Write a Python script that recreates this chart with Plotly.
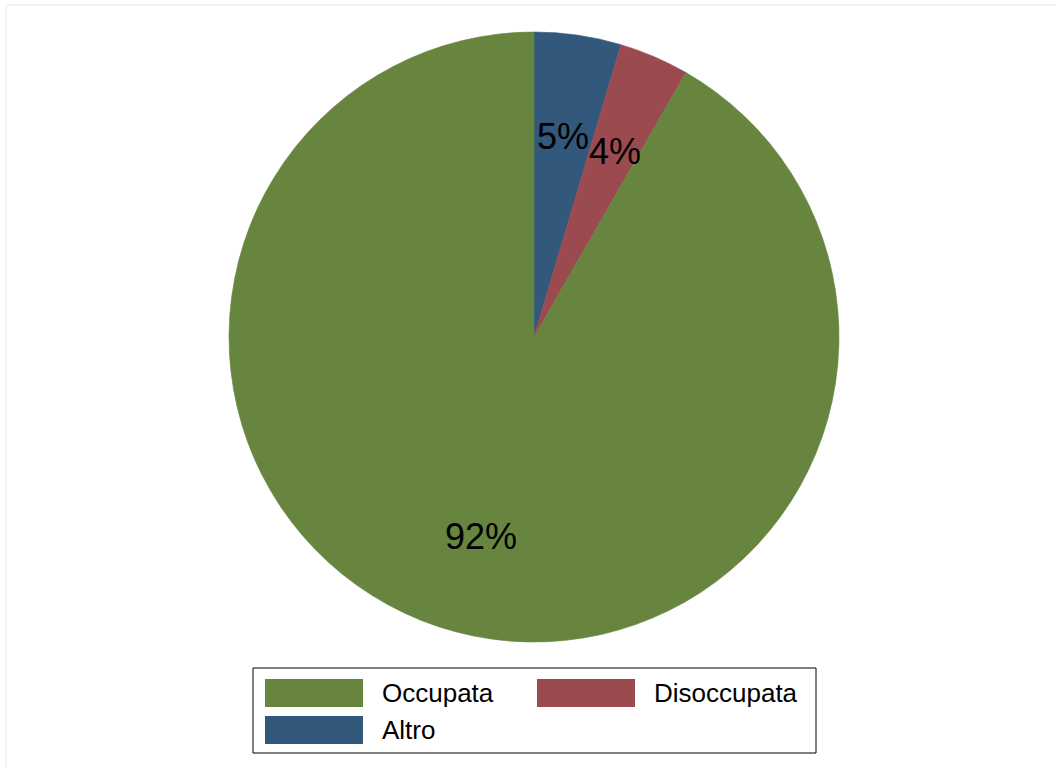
import math
import plotly.graph_objects as go

categories = ["Occupata", "Disoccupata", "Altro"]
values = [91.7, 3.7, 4.6]
colors = ["#67853F", "#9B4A50", "#32587B"]

W, H = 1056, 767
FONT = "Liberation Sans, Arial, Helvetica, sans-serif"

# pie geometry (pixels)
cx, cy, r = 534, 337, 305

# Slices run counterclockwise from 12 o'clock in category order;
# plotly draws clockwise, so feed it the reversed order.
fig = go.Figure(go.Pie(
    labels=categories[::-1], values=values[::-1], sort=False, direction="clockwise",
    rotation=0, marker=dict(colors=colors[::-1], line=dict(width=0.6, color=colors[::-1])),
    textinfo="none", hoverinfo="label+percent", showlegend=False,
    domain=dict(x=[(cx - r) / W, (cx + r) / W], y=[(H - cy - r) / H, (H - cy + r) / H]),
))

annotations = []
total = sum(values)
start = 90.0
for cat, v in zip(categories, values):
    sweep = v / total * 360.0
    mid = math.radians(start + sweep / 2)
    start += sweep
    d = r * 0.67
    px = cx + d * math.cos(mid)
    py = cy - d * math.sin(mid) + 2
    annotations.append(dict(
        x=px / W, y=1 - py / H, xref="paper", yref="paper",
        text=f"{round(v / total * 100)}%", showarrow=False,
        font=dict(family=FONT, size=36, color="black"),
        xanchor="center", yanchor="middle",
    ))

shapes = []
# outer faint frame
shapes.append(dict(type="rect", xref="paper", yref="paper",
                   x0=6 / W, x1=1.01, y0=-0.01, y1=1 - 5 / H,
                   line=dict(color="#E2E9EE", width=1), fillcolor="rgba(0,0,0,0)"))
# legend box
lx0, ly0, lx1, ly1 = 253, 668, 816, 753
shapes.append(dict(type="rect", xref="paper", yref="paper",
                   x0=lx0 / W, x1=lx1 / W, y0=1 - ly1 / H, y1=1 - ly0 / H,
                   line=dict(color="black", width=1), fillcolor="white"))
col_x = [265, 537]
row_y = [679, 716]
sw_w, sw_h = 98, 28
for i, (cat, col) in enumerate(zip(categories, colors)):
    c, rw = i % 2, i // 2
    x0, y0 = col_x[c], row_y[rw]
    shapes.append(dict(type="rect", xref="paper", yref="paper",
                       x0=x0 / W, x1=(x0 + sw_w) / W, y0=1 - (y0 + sw_h) / H, y1=1 - y0 / H,
                       line=dict(width=0), fillcolor=col))
    annotations.append(dict(
        x=(x0 + sw_w + 17) / W, y=1 - (y0 + sw_h / 2) / H, xref="paper", yref="paper",
        text=cat, showarrow=False, xanchor="left", yanchor="middle",
        font=dict(family=FONT, size=26, color="black"),
    ))

fig.update_layout(
    width=W, height=H, margin=dict(l=0, r=0, t=0, b=0),
    paper_bgcolor="white", plot_bgcolor="white",
    annotations=annotations, shapes=shapes,
)

fig.write_html("out.html", config={"displayModeBar": False},
               post_script="document.body.style.margin='0px';document.body.style.overflow='hidden';")
